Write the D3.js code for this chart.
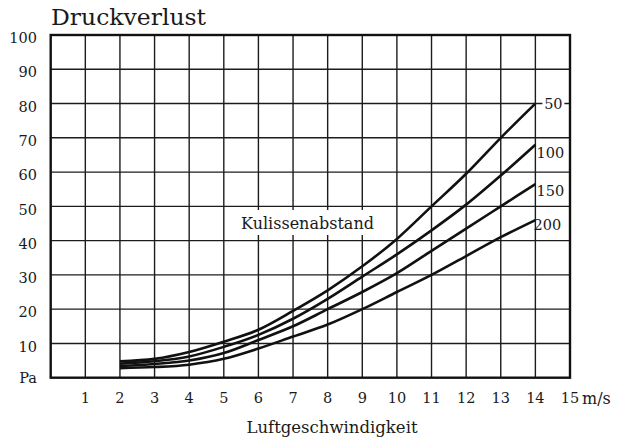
<!DOCTYPE html>
<html>
<head>
<meta charset="utf-8">
<script src="https://cdn.jsdelivr.net/npm/d3@7"></script>
<style>
  html, body { margin: 0; padding: 0; background: #fff; }
  svg text { font-family: "DejaVu Serif", serif; fill: #1a1a1a; }
</style>
</head>
<body>
<svg id="chart" width="624" height="441"></svg>
<script>
// Data
const speeds = [2, 3, 4, 5, 6, 7, 8, 9, 10, 11, 12, 13, 14];
const seriesNames = ["50", "100", "150", "200"];
const s50  = [4.8, 5.5, 7.5, 10.5, 14.0, 19.5, 25.5, 32.5, 40.5, 50.0, 59.5, 70.0, 80.0];
const s100 = [4.1, 4.8, 6.2, 9.0, 12.5, 17.2, 23.0, 29.5, 36.0, 43.0, 50.5, 59.0, 68.0];
const s150 = [3.4, 4.0, 5.0, 7.2, 11.0, 15.0, 20.0, 25.0, 30.5, 37.0, 43.5, 50.0, 56.5];
const s200 = [2.8, 3.1, 3.8, 5.5, 8.5, 12.0, 15.5, 20.0, 25.0, 30.0, 35.5, 41.0, 46.0];
const xTicks = [1, 2, 3, 4, 5, 6, 7, 8, 9, 10, 11, 12, 13, 14, 15];
const yTicks = [10, 20, 30, 40, 50, 60, 70, 80, 90, 100];
const yZeroLabel = "Pa";
const xUnit = "m/s";
const title = "Druckverlust";
const xTitle = "Luftgeschwindigkeit";
const seriesTitle = "Kulissenabstand";

const svg = d3.select("#chart");
const x = d3.scaleLinear().domain([0, 15]).range([50.7, 570]);
const y = d3.scaleLinear().domain([0, 100]).range([377.7, 35]);

// grid
const grid = svg.append("g").attr("stroke", "#1c1c1c").attr("stroke-width", 1.4);
grid.selectAll("line.v").data(d3.range(1, 15)).join("line")
  .attr("x1", d => x(d)).attr("x2", d => x(d))
  .attr("y1", y(0)).attr("y2", y(100));
grid.selectAll("line.h").data(d3.range(10, 100, 10)).join("line")
  .attr("x1", x(0)).attr("x2", x(15))
  .attr("y1", d => y(d)).attr("y2", d => y(d));

// white box behind "Kulissenabstand"
svg.append("rect").attr("x", 235).attr("y", 210).attr("width", 146).attr("height", 25).attr("fill", "#fff");

// border
svg.append("rect").attr("x", x(0)).attr("y", y(100))
  .attr("width", x(15) - x(0)).attr("height", y(0) - y(100))
  .attr("fill", "none").attr("stroke", "#111").attr("stroke-width", 2.4);

// curves
const all = [s50, s100, s150, s200];
const line = d3.line().x((d, i) => x(speeds[i])).y(d => y(d)).curve(d3.curveMonotoneX);
svg.append("g").selectAll("path").data(all).join("path")
  .attr("d", d => line(d))
  .attr("fill", "none").attr("stroke", "#111").attr("stroke-width", 2.6)
  .attr("stroke-linecap", "butt");

// curve labels
const labG = svg.append("g");
all.forEach((s, k) => {
  const yy = y(s[s.length - 1]) + [0, 8, 7, 5][k];
  const xx = x(14) + [18, 15, 15, 12][k];
  if (k === 0) {
    labG.append("rect").attr("x", xx - 11).attr("y", yy - 7).attr("width", 22).attr("height", 14).attr("fill", "#fff");
  }
  labG.append("text").attr("x", xx).attr("y", yy).attr("dy", "0.36em")
    .attr("text-anchor", "middle").attr("font-size", 14.5).text(seriesNames[k]);
});

// y tick labels
svg.append("g").selectAll("text").data(yTicks).join("text")
  .attr("x", 37).attr("y", d => y(d) + 3).attr("dy", "0.36em")
  .attr("text-anchor", "end").attr("font-size", 14.5).text(d => d);
svg.append("text").attr("x", 37).attr("y", y(0)).attr("dy", "0.36em")
  .attr("text-anchor", "end").attr("font-size", 14.5).text(yZeroLabel);

// x tick labels
svg.append("g").selectAll("text").data(xTicks).join("text")
  .attr("x", d => x(d)).attr("y", 398).attr("dy", "0.36em")
  .attr("text-anchor", "middle").attr("font-size", 14.5).text(d => d);
svg.append("text").attr("x", 582).attr("y", 398).attr("dy", "0.36em")
  .attr("font-size", 16).text(xUnit);

// titles
svg.append("text").attr("x", 51).attr("y", 25).attr("font-size", 22)
  .attr("textLength", 155).attr("lengthAdjust", "spacingAndGlyphs").text(title);
svg.append("text").attr("x", 332).attr("y", 433).attr("text-anchor", "middle")
  .attr("font-size", 16.5).text(xTitle);
svg.append("text").attr("x", 307.5).attr("y", 229).attr("text-anchor", "middle")
  .attr("font-size", 16).text(seriesTitle);
</script>
</body>
</html>
